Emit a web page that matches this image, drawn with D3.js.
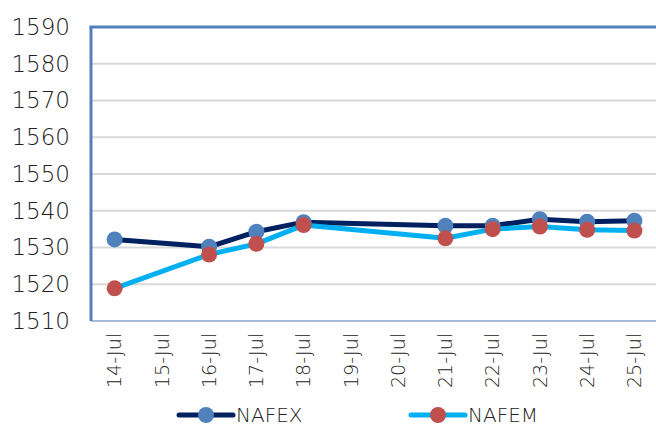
<!DOCTYPE html>
<html>
<head>
<meta charset="utf-8">
<script src="https://cdn.jsdelivr.net/npm/d3@7"></script>
<style>
  html, body { margin: 0; padding: 0; background: #fff; }
  svg { display: block; font-family: "DejaVu Sans", sans-serif; }
</style>
</head>
<body>
<svg id="chart"></svg>
<script>
// categories and values
const dates = ["14-Jul", "15-Jul", "16-Jul", "17-Jul", "18-Jul", "19-Jul",
  "20-Jul", "21-Jul", "22-Jul", "23-Jul", "24-Jul", "25-Jul"];
const tradeDates = ["14-Jul", "16-Jul", "17-Jul", "18-Jul", "21-Jul", "22-Jul", "23-Jul", "24-Jul", "25-Jul"];
const nafexValues = [1532.2, 1530.2, 1534.3, 1536.9, 1535.9, 1535.9, 1537.7, 1537.0, 1537.3];
const nafemValues = [1518.9, 1528.1, 1531.0, 1536.1, 1532.5, 1535.0, 1535.7, 1534.8, 1534.6];
const yTicks = [1510, 1520, 1530, 1540, 1550, 1560, 1570, 1580, 1590];

const W = 656, H = 427;
const margin = { top: 27, right: -2, bottom: 106, left: 91 };
const width = W - margin.left - margin.right;
const height = H - margin.top - margin.bottom;

const svg = d3.select("#chart").attr("width", W).attr("height", H);
const g = svg.append("g").attr("transform", `translate(${margin.left},${margin.top})`);

const x = d3.scaleBand().domain(dates).range([0, width]);
const y = d3.scaleLinear().domain([1510, 1590]).range([height, 0]);
const cx = (d) => x(d) + x.bandwidth() / 2;

// gridlines
g.append("g")
  .selectAll("line")
  .data(yTicks.filter((t) => t > 1510 && t < 1590))
  .enter()
  .append("line")
  .attr("x1", 0)
  .attr("x2", width)
  .attr("y1", (d) => y(d))
  .attr("y2", (d) => y(d))
  .attr("stroke", "#d9d9d9")
  .attr("stroke-width", 2);

// plot area borders
g.append("line").attr("x1", 0).attr("x2", width).attr("y1", height).attr("y2", height)
  .attr("stroke", "#a7bcdc").attr("stroke-width", 2);
g.append("line").attr("x1", 0).attr("x2", 0).attr("y1", 0).attr("y2", height)
  .attr("stroke", "#4f81bd").attr("stroke-width", 3);
g.append("line").attr("x1", -1.5).attr("x2", width).attr("y1", 0).attr("y2", 0)
  .attr("stroke", "#4f81bd").attr("stroke-width", 3);

// y axis labels
const yAxis = g.append("g")
  .call(d3.axisLeft(y).tickValues(yTicks).tickFormat(d3.format("d")).tickSize(0).tickPadding(21));
yAxis.select(".domain").remove();
yAxis.selectAll("text")
  .style("font-family", "'DejaVu Sans', sans-serif")
  .style("font-size", "23px")
  .style("font-weight", "200")
  .attr("fill", "#222");

// x axis labels
const xAxis = g.append("g")
  .attr("transform", `translate(0,${height})`)
  .call(d3.axisBottom(x).tickSize(0));
xAxis.select(".domain").remove();
xAxis.selectAll("text")
  .attr("transform", "rotate(-90)")
  .attr("x", -12)
  .attr("y", 0)
  .attr("dy", "0.35em")
  .style("text-anchor", "end")
  .style("font-family", "'DejaVu Sans', sans-serif")
  .style("font-size", "19px")
  .style("font-weight", "200")
  .attr("fill", "#222");

const nafex = tradeDates.map((d, i) => ({ date: d, value: nafexValues[i] }));
const nafem = tradeDates.map((d, i) => ({ date: d, value: nafemValues[i] }));

const line = d3.line().x((d) => cx(d.date)).y((d) => y(d.value));

const series = [
  { name: "NAFEX", data: nafex, stroke: "#002060", marker: "#4f81bd" },
  { name: "NAFEM", data: nafem, stroke: "#00b0f0", marker: "#c0504d" }
];

series.forEach((s) => {
  g.append("path")
    .datum(s.data)
    .attr("fill", "none")
    .attr("stroke", s.stroke)
    .attr("stroke-width", 5)
    .attr("stroke-linejoin", "round")
    .attr("d", line);
});
series.forEach((s) => {
  g.selectAll(null)
    .data(s.data)
    .enter()
    .append("circle")
    .attr("cx", (d) => cx(d.date))
    .attr("cy", (d) => y(d.value))
    .attr("r", 8)
    .attr("fill", s.marker);
});

// legend
const legend = svg.append("g").attr("transform", "translate(0,415)");
const legendX = [179, 411];
series.forEach((s, i) => {
  const lg = legend.append("g").attr("transform", `translate(${legendX[i]},0)`);
  lg.append("line").attr("x1", 0).attr("x2", 54).attr("y1", 0).attr("y2", 0)
    .attr("stroke", s.stroke).attr("stroke-width", 5).attr("stroke-linecap", "round");
  lg.append("circle").attr("cx", 27).attr("cy", 0).attr("r", 8).attr("fill", s.marker);
  lg.append("text").attr("x", 57).attr("y", 0).attr("dy", "0.35em")
    .style("font-size", "20px").style("font-weight", "200")
    .attr("fill", "#222").text(s.name);
});
</script>
</body>
</html>
